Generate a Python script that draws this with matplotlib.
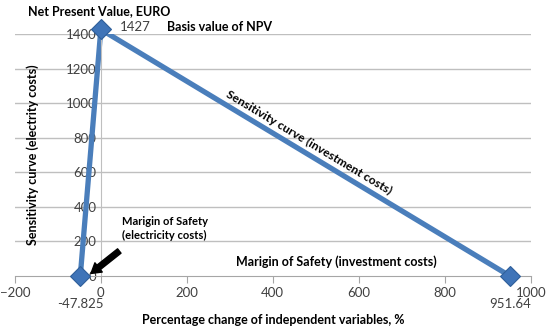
import matplotlib.pyplot as plt

# sensitivity curves (percentage change, NPV)
elec_x = [-47.825, 0]
elec_y = [0, 1427]
inv_x = [0, 951.64]
inv_y = [1427, 0]

x_ticks = [-200, 0, 200, 400, 600, 800, 1000]
y_ticks = [200, 400, 600, 800, 1000, 1200, 1400]

plt.rcParams['font.family'] = ['Lato', 'DejaVu Sans']

blue = '#4a7ebb'
fig = plt.figure(figsize=(5.5, 3.31), dpi=100)
ax = fig.add_axes([0.027, 0.166, 0.938, 0.731])

for y in y_ticks:
    ax.axhline(y, color='#bfbfbf', lw=1, zorder=0)

ax.plot(elec_x, elec_y, color=blue, lw=3.8, zorder=2, solid_capstyle='butt')
ax.plot(inv_x, inv_y, color=blue, lw=3.8, zorder=2, solid_capstyle='butt')
ax.plot([elec_x[0], inv_x[0], inv_x[1]], [elec_y[0], inv_y[0], inv_y[1]],
        ls='none', marker='D', ms=10.5, mfc='#3f74b8', mec='#2f5f9a', mew=0.8,
        zorder=3, clip_on=False)

ax.set_xlim(-200, 1000)
ax.set_ylim(0, 1400)
ax.set_xticks(x_ticks)
ax.set_yticks([0] + y_ticks)

for s in ['top', 'right']:
    ax.spines[s].set_visible(False)
ax.spines['left'].set_position(('data', 0))
ax.spines['left'].set_color('#bfbfbf')
ax.spines['bottom'].set_color('#a6a6a6')
ax.tick_params(axis='x', length=5, color='#a6a6a6', labelsize=9.5, labelcolor='#404040', pad=3)
ax.tick_params(axis='y', length=0, labelsize=9.5, labelcolor='#404040', pad=3)

bold = dict(fontweight='bold', color='black')
fig.text(0.05, 0.985, 'Net Present Value, EURO', fontsize=9, va='top', **bold)
ax.text(44, 1440, '1427', fontsize=9.5, color='#404040', va='center')
ax.text(155, 1440, 'Basis value of NPV', fontsize=9, va='center', **bold)
ax.text(-47.825, -160, '-47.825', fontsize=9.5, color='#404040', ha='center', va='center')
ax.text(951.64, -160, '951.64', fontsize=9.5, color='#404040', ha='center', va='center')
ax.text(485, 775, 'Sensitivity curve (investment costs)', fontsize=8.7, rotation=-31,
        ha='center', va='center', rotation_mode='anchor', **bold)
ax.text(-158, 700, 'Sensitivity curve (electrity costs)', fontsize=9, rotation=90,
        ha='center', va='center', **bold)
ax.text(50, 275, 'Marigin of Safety\n(electricity costs)', fontsize=8, ha='left',
        va='center', linespacing=1.35, **bold)
ax.text(315, 85, 'Marigin of Safety (investment costs)', fontsize=9, ha='left',
        va='center', **bold)
ax.annotate('', xy=(-28, 5), xytext=(48, 155),
            arrowprops=dict(arrowstyle='simple,head_length=0.7,head_width=0.85,tail_width=0.4',
                            color='black'))
ax.set_xlabel('Percentage change of independent variables, %', fontsize=9, **bold, labelpad=11)

fig.savefig('out.png', dpi=100)
